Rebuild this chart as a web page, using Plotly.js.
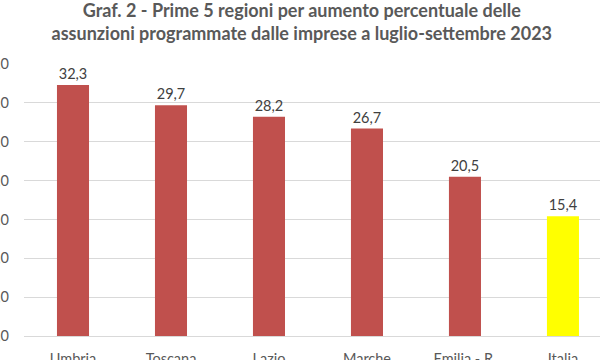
<!DOCTYPE html>
<html>
<head>
<meta charset="utf-8">
<script src="https://cdn.plot.ly/plotly-3.0.1.min.js"></script>
<style>html,body{margin:0;padding:0;background:#fff}#chart{width:600px;height:360px}</style>
</head>
<body>
<div id="chart"></div>
<script>
const regions = ["Umbria", "Toscana", "Lazio", "Marche", "Emilia - R.", "Italia"];
const values = [32.3, 29.7, 28.2, 26.7, 20.5, 15.4];
const barColors = ["#C0504D", "#C0504D", "#C0504D", "#C0504D", "#C0504D", "#FFFF00"];
const yTicks = [0, 5, 10, 15, 20, 25, 30, 35];
const titleText = "Graf. 2 - Prime 5 regioni per aumento percentuale delle<br>assunzioni programmate dalle imprese a luglio-settembre 2023";

const trace = {
  type: "bar",
  x: regions,
  y: values,
  width: 0.327,
  marker: {color: barColors},
  texttemplate: "%{y:.1f}",
  textposition: "outside",
  cliponaxis: false,
  textfont: {family: "Lato, 'Open Sans', sans-serif", size: 14.5, color: "#404040"},
  hoverinfo: "none"
};

const layout = {
  width: 600, height: 360,
  margin: {l: 24, r: 0, t: 64, b: 24},
  paper_bgcolor: "#fff", plot_bgcolor: "#fff",
  separators: ",.",
  showlegend: false,
  title: {
    text: titleText,
    font: {family: "Lato, 'Open Sans', sans-serif", size: 18, color: "#595959", weight: "bold"},
    x: 0.503, xanchor: "center", yref: "container", y: 0.953, yanchor: "middle"
  },
  xaxis: {
    type: "category",
    range: [-0.5, 5.378],
    showgrid: false,
    showline: true, linecolor: "#D9D9D9", linewidth: 1,
    ticks: "outside", ticklen: 10, tickcolor: "rgba(0,0,0,0)",
    tickfont: {family: "Lato, 'Open Sans', sans-serif", size: 14.5, color: "#595959"}
  },
  yaxis: {
    range: [0, 35],
    tickvals: yTicks,
    tickformat: ".1f",
    showgrid: true, gridcolor: "#D9D9D9", gridwidth: 1,
    zeroline: false,
    ticklabelstandoff: 14,
    tickfont: {family: "Lato, 'Open Sans', sans-serif", size: 14.5, color: "#595959"}
  }
};

Plotly.newPlot("chart", [trace], layout, {displayModeBar: false, staticPlot: true});
</script>
</body>
</html>
